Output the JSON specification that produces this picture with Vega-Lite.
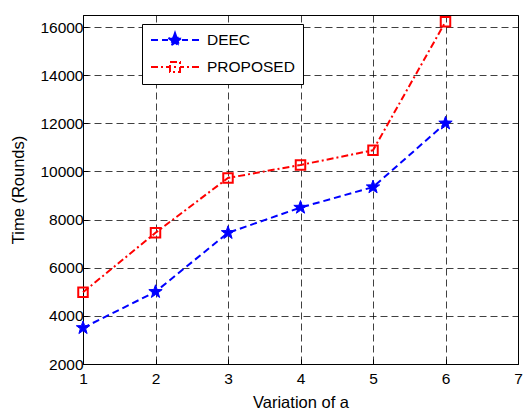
{
  "$schema": "https://vega.github.io/schema/vega-lite/v6.json",
  "autosize": {"type": "none"},
  "width": 435,
  "height": 349,
  "padding": {"left": 83, "top": 15, "right": 5, "bottom": 47},
  "background": "white",
  "config": {
    "font": "Liberation Sans",
    "view": {"stroke": "black", "strokeWidth": 1},
    "axis": {
      "grid": true,
      "gridColor": "#000000",
      "gridDash": [7, 4],
      "gridOpacity": 0.75,
      "gridWidth": 1,
      "domainColor": "black",
      "tickColor": "black",
      "tickSize": -5,
      "labelColor": "black",
      "labelFont": "Liberation Sans",
      "labelFontSize": 15.5,
      "labelFlush": false,
      "titleFont": "Liberation Sans",
      "titleFontSize": 16.5,
      "titleFontWeight": "normal",
      "titleColor": "black"
    }
  },
  "data": {
    "values": [
      {"a": 1, "time": 3500, "series": "DEEC"},
      {"a": 2, "time": 5000, "series": "DEEC"},
      {"a": 3, "time": 7450, "series": "DEEC"},
      {"a": 4, "time": 8500, "series": "DEEC"},
      {"a": 5, "time": 9350, "series": "DEEC"},
      {"a": 6, "time": 12000, "series": "DEEC"},
      {"a": 1, "time": 4980, "series": "PROPOSED"},
      {"a": 2, "time": 7450, "series": "PROPOSED"},
      {"a": 3, "time": 9730, "series": "PROPOSED"},
      {"a": 4, "time": 10270, "series": "PROPOSED"},
      {"a": 5, "time": 10880, "series": "PROPOSED"},
      {"a": 6, "time": 16220, "series": "PROPOSED"}
    ]
  },
  "encoding": {
    "x": {
      "field": "a", "type": "quantitative",
      "scale": {"domain": [1, 7], "nice": false, "zero": false},
      "axis": {"values": [1, 2, 3, 4, 5, 6, 7], "format": "d", "title": "Variation of a", "labelPadding": 12, "titlePadding": 8}
    },
    "y": {
      "field": "time", "type": "quantitative",
      "scale": {"domain": [2000, 16500], "nice": false, "zero": false},
      "axis": {"values": [2000, 4000, 6000, 8000, 10000, 12000, 14000, 16000], "format": "d", "title": "Time (Rounds)", "labelPadding": 5, "titlePadding": 13}
    }
  },
  "layer": [
    {
      "mark": {"type": "line", "strokeWidth": 2},
      "encoding": {
        "color": {
          "field": "series", "type": "nominal",
          "scale": {"domain": ["DEEC", "PROPOSED"], "range": ["#0000ff", "#ff0000"]},
          "legend": {
            "title": null,
            "orient": "none",
            "legendX": 59,
            "legendY": 9,
            "strokeColor": "black",
            "fillColor": "white",
            "padding": 8,
            "symbolSize": 196,
            "symbolStrokeWidth": 2,
            "labelFont": "Liberation Sans",
            "labelFontSize": 15.5,
            "labelColor": "black",
            "labelOffset": 41,
            "rowPadding": 8,
            "encode": {
              "symbols": {
                "update": {
                  "shape": {"signal": "datum.value === 'DEEC' ? 'M-1,0L0,0M0.571,0L1.429,0M3.429,0L4.286,0M4.857,0L5.857,0M2.429,-1L2.664,-0.324L3.38,-0.309L2.809,0.124L3.017,0.809L2.429,0.4L1.841,0.809L2.049,0.124L1.478,-0.309L2.194,-0.324Z' : 'M-1,0L0,0M0.429,0L0.714,0M1.143,0L1.714,0M3.143,0L3.714,0M4.143,0L4.429,0M4.857,0L5.857,0M2.286,0L2.571,0M1.714,-0.714L3.143,-0.714L3.143,0.714L1.714,0.714Z'"},
                  "fill": {"signal": "datum.value === 'DEEC' ? '#0000ff' : 'transparent'"},
                  "stroke": {"signal": "datum.value === 'DEEC' ? '#0000ff' : '#ff0000'"},
                  "strokeDash": {"value": [1, 0]},
                  "strokeWidth": {"value": 2}
                }
              }
            }
          }
        },
        "strokeDash": {
          "field": "series", "type": "nominal",
          "scale": {"domain": ["DEEC", "PROPOSED"], "range": [[7, 4], [7, 3, 2, 3]]},
          "legend": null
        }
      }
    },
    {
      "transform": [{"filter": "datum.series === 'DEEC'"}],
      "mark": {
        "type": "point",
        "shape": "M0,-1L0.235,-0.324L0.951,-0.309L0.38,0.124L0.588,0.809L0,0.4L-0.588,0.809L-0.38,0.124L-0.951,-0.309L-0.235,-0.324Z",
        "filled": true,
        "fill": "#0000ff",
        "stroke": "#0000ff",
        "strokeWidth": 1,
        "size": 196,
        "opacity": 1
      }
    },
    {
      "transform": [{"filter": "datum.series === 'PROPOSED'"}],
      "mark": {
        "type": "point",
        "shape": "square",
        "filled": false,
        "stroke": "#ff0000",
        "strokeWidth": 2,
        "size": 90,
        "opacity": 1
      }
    }
  ]
}
